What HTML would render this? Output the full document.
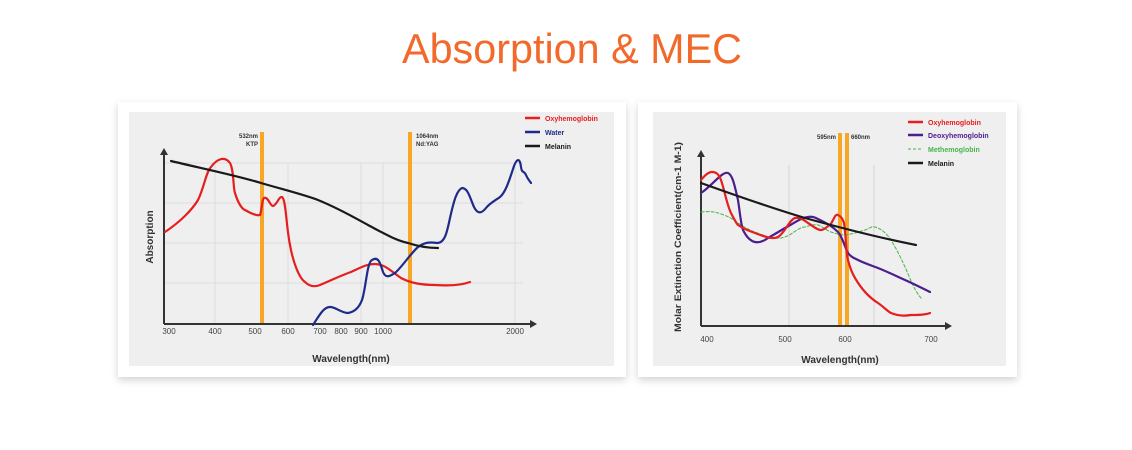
<!DOCTYPE html>
<html><head><meta charset="utf-8"><style>
html,body{margin:0;padding:0;background:#fff;}
svg{display:block;font-family:"Liberation Sans",sans-serif;}
</style></head><body>
<svg width="1132" height="450" viewBox="0 0 1132 450" xmlns="http://www.w3.org/2000/svg">
<defs>
<filter id="sh" x="-5%" y="-5%" width="110%" height="120%"><feDropShadow dx="0" dy="3" stdDeviation="4" flood-color="#000" flood-opacity="0.18"/></filter>
</defs>
<text x="402" y="63" font-size="42" fill="#f26a2b" textLength="340" lengthAdjust="spacingAndGlyphs">Absorption &amp; MEC</text>

<!-- Card 1 -->
<rect x="118" y="102" width="508" height="275" fill="#fff" filter="url(#sh)"/>
<rect x="129" y="112" width="485" height="254" fill="#efefef"/>
<g stroke="#dcdcdc" stroke-width="1">
<line x1="164" y1="163" x2="523" y2="163"/><line x1="164" y1="203" x2="523" y2="203"/>
<line x1="164" y1="243" x2="523" y2="243"/><line x1="164" y1="283" x2="523" y2="283"/>
<line x1="215" y1="163" x2="215" y2="324"/><line x1="288" y1="163" x2="288" y2="324"/>
<line x1="361" y1="163" x2="361" y2="324"/><line x1="383" y1="163" x2="383" y2="324"/>
<line x1="515" y1="163" x2="515" y2="324"/>
</g>
<rect x="260" y="132" width="4" height="192" fill="#f8a724"/>
<rect x="408" y="132" width="4" height="192" fill="#f8a724"/>
<g font-size="6" font-weight="bold" fill="#333">
<text x="258" y="138" text-anchor="end">532nm</text><text x="258" y="146" text-anchor="end">KTP</text>
<text x="416" y="138">1064nm</text><text x="416" y="146">Nd:YAG</text>
</g>
<g stroke="#333" stroke-width="2" fill="none">
<line x1="164" y1="152" x2="164" y2="324"/><line x1="164" y1="324" x2="533" y2="324"/>
</g>
<path d="M160,155 L164,148 L168,155Z M530,320 L537,324 L530,328Z" fill="#333"/>
<g font-size="8" fill="#444" text-anchor="middle">
<text x="169" y="334">300</text><text x="215" y="334">400</text><text x="255" y="334">500</text><text x="288" y="334">600</text>
<text x="320" y="334">700</text><text x="341" y="334">800</text><text x="361" y="334">900</text><text x="383" y="334">1000</text><text x="515" y="334">2000</text>
</g>
<text x="351" y="362" font-size="10" font-weight="bold" fill="#333" text-anchor="middle">Wavelength(nm)</text>
<text transform="translate(153,237) rotate(-90)" font-size="10" font-weight="bold" fill="#333" text-anchor="middle">Absorption</text>
<g fill="none" stroke-width="2.2" stroke-linejoin="round" stroke-linecap="round">
<path stroke="#e51e1e" d="M165,232 C180,222 192,210 198,200 C204,188 206,172 211,167 C216,160 224,155 230,163 C234,170 233,188 235,193 C238,203 242,209 245,210 C252,214 257,216 260,215 C262,210 262,199 264,198 C268,196 270,206 273,206 C277,205 279,196 282,197 C286,199 286,225 290,245 C293,262 299,278 305,282 C310,287 315,287 320,285 C332,280 342,275 351,272 C360,268 366,264 375,264 C385,264 392,272 401,278 C412,284 425,285 435,285 C450,286 462,285 470,282"/>
<path stroke="#1e2b8a" d="M313,325 C320,314 324,307 330,307 C336,307 341,313 348,313 C354,312 359,308 362,300 C366,288 367,262 372,260 C378,256 380,262 383,272 C386,279 390,276 395,273 C402,267 411,253 418,247 C425,242 430,242 437,243 C445,243 447,232 450,218 C454,200 457,190 462,188 C468,188 470,198 474,207 C478,215 482,213 486,208 C490,203 496,200 500,197 C506,192 510,178 514,166 C517,158 520,158 521,167 C522,174 524,170 526,175 C528,180 530,181 531,183"/>
<path stroke="#1a1a1a" d="M171,161 C200,168 235,175 261,183 C285,190 305,195 318,200 C340,209 355,218 368,225 C385,234 395,240 408,243 C420,247 430,248 438,248"/>
</g>
<g stroke-width="2.5"><line x1="525" y1="118" x2="540" y2="118" stroke="#e51e1e"/><line x1="525" y1="132" x2="540" y2="132" stroke="#1e2b8a"/><line x1="525" y1="146" x2="540" y2="146" stroke="#1a1a1a"/></g>
<g font-size="7" font-weight="bold"><text x="545" y="121" fill="#e51e1e">Oxyhemoglobin</text><text x="545" y="135" fill="#1e2b8a">Water</text><text x="545" y="149" fill="#1a1a1a">Melanin</text></g>

<!-- Card 2 -->
<rect x="638" y="102" width="379" height="275" fill="#fff" filter="url(#sh)"/>
<rect x="653" y="112" width="353" height="254" fill="#efefef"/>
<g stroke="#d6d6d6"><line x1="789" y1="165" x2="789" y2="326"/><line x1="874" y1="165" x2="874" y2="326"/></g>
<rect x="838" y="133" width="4" height="193" fill="#f8a724"/>
<rect x="845" y="133" width="4" height="193" fill="#f8a724"/>
<g font-size="6" font-weight="bold" fill="#333"><text x="836" y="139" text-anchor="end">595nm</text><text x="851" y="139">660nm</text></g>
<g stroke="#333" stroke-width="2" fill="none"><line x1="701" y1="154" x2="701" y2="326"/><line x1="701" y1="326" x2="948" y2="326"/></g>
<path d="M697,157 L701,150 L705,157Z M945,322 L952,326 L945,330Z" fill="#333"/>
<g font-size="8" fill="#444" text-anchor="middle"><text x="707" y="342">400</text><text x="785" y="342">500</text><text x="845" y="342">600</text><text x="931" y="342">700</text></g>
<text x="840" y="363" font-size="10" font-weight="bold" fill="#333" text-anchor="middle">Wavelength(nm)</text>
<text transform="translate(681,237) rotate(-90)" font-size="9" font-weight="bold" fill="#333" text-anchor="middle" textLength="190" lengthAdjust="spacingAndGlyphs">Molar Extinction Coefficient(cm-1 M-1)</text>
<g fill="none" stroke-width="2.2" stroke-linejoin="round" stroke-linecap="round">
<path stroke="#4ab34a" stroke-width="1" stroke-dasharray="3,2" d="M701,212 C710,211 715,212 718,213 C728,216 733,219 738,223 C745,228 750,230 755,232 C765,236 773,239 781,238 C792,236 798,227 805,227 C812,225 815,224 818,225 C823,227 826,230 831,232 C837,234 841,235 845,235 C853,234 858,232 865,230 C870,228 872,226 875,227 C882,229 887,234 891,240 C897,250 901,258 905,267 C910,278 914,290 921,298"/>
<path stroke="#4b1e8f" d="M701,193 C712,186 722,171 728,173 C733,175 735,188 738,200 C740,213 741,225 743,230 C746,236 750,241 755,242 C760,243 764,241 768,238 C775,234 780,231 785,228 C793,224 800,218 808,217 C813,216 816,218 820,220 C826,223 832,226 838,232 C843,238 845,248 848,253 C851,257 854,258 858,260 C864,263 870,265 878,268 C888,272 896,276 905,280 C914,284 922,288 930,292"/>
<path stroke="#e51e1e" d="M701,180 C705,175 709,172 712,172 C717,172 719,175 721,180 C725,192 727,205 731,213 C734,219 736,223 738,225 C744,229 749,231 755,233 C763,236 772,240 778,237 C785,233 789,220 795,218 C800,217 804,220 808,223 C813,226 817,230 821,230 C825,230 827,226 830,225 C833,222 835,213 838,215 C842,217 843,220 844,223 C846,235 846,253 848,260 C850,268 852,273 855,278 C862,290 870,298 878,303 C884,307 887,311 891,313 C898,316 905,316 911,315 C918,315 925,315 930,313"/>
<path stroke="#1a1a1a" d="M701,183 C740,197 775,209 805,218 C845,229 880,238 916,245"/>
</g>
<g stroke-width="2.5"><line x1="908" y1="122" x2="923" y2="122" stroke="#e51e1e"/><line x1="908" y1="135" x2="923" y2="135" stroke="#4b1e8f"/><line x1="908" y1="149" x2="923" y2="149" stroke="#4ab34a" stroke-width="1" stroke-dasharray="3,2"/><line x1="908" y1="163" x2="923" y2="163" stroke="#1a1a1a"/></g>
<g font-size="7" font-weight="bold"><text x="928" y="125" fill="#e51e1e">Oxyhemoglobin</text><text x="928" y="138" fill="#4b1e8f">Deoxyhemoglobin</text><text x="928" y="152" fill="#4ab34a">Methemoglobin</text><text x="928" y="166" fill="#1a1a1a">Melanin</text></g>
</svg>
</body></html>
